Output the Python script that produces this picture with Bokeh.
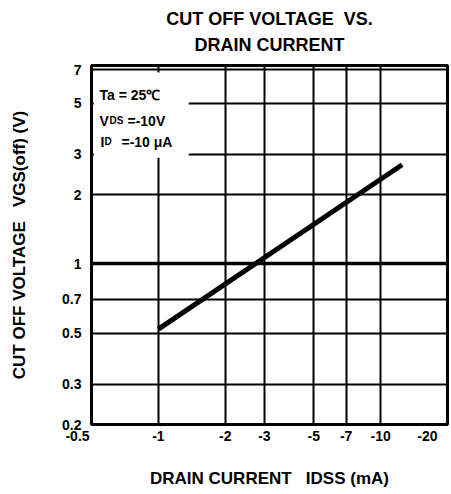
import math
from bokeh.plotting import figure
from bokeh.models import FixedTicker, Grid, Label, BoxAnnotation, Title
from bokeh.embed import file_html
from bokeh.resources import INLINE

# ---- data ----
idss_abs = [1.0, 12.5]          # |IDSS| in mA (axis shows negative values)
vgs_off = [0.52, 2.7]           # VGS(off) in V

x_ticks = [0.5, 1, 2, 3, 5, 7, 10, 20]
x_tick_labels = ["-0.5\u2003\u2003", "-1", "-2", "-3", "-5", "-7", "-10",
                 "-20\u2003"]
y_ticks = [0.2, 0.3, 0.5, 0.7, 1, 2, 3, 5, 7]
y_tick_labels = ["0.2", "0.3", "0.5", "0.7", "1", "2", "3", "5", "7"]

FONT = "Liberation Sans"
NB = "\u00a0"

p = figure(width=451, height=494, x_axis_type="log", y_axis_type="log",
           x_range=(0.5, 20), y_range=(0.2, 7.3),
           output_backend="svg", toolbar_location=None, title=None,
           min_border_left=91, min_border_right=4, min_border_top=65,
           min_border_bottom=70)
p.background_fill_color = "white"
p.border_fill_color = "white"
p.outline_line_color = "black"
p.outline_line_width = 3

for ax, ticks, labels in ((p.xaxis[0], x_ticks, x_tick_labels),
                          (p.yaxis[0], y_ticks, y_tick_labels)):
    ax.ticker = FixedTicker(ticks=ticks)
    ax.major_label_overrides = {t: l for t, l in zip(ticks, labels)}
    ax.minor_tick_line_color = None
    ax.major_tick_line_color = None
    ax.major_tick_in = 0
    ax.major_tick_out = 0
    ax.axis_line_color = None
    ax.major_label_text_font = FONT
    ax.major_label_text_font_style = "bold"
    ax.major_label_text_font_size = "14px"
    ax.major_label_text_color = "black"
    ax.axis_label_text_font = FONT
    ax.axis_label_text_font_style = "bold"
    ax.axis_label_text_font_size = "17px"
    ax.axis_label_text_color = "black"

p.xaxis.major_label_standoff = 3
p.yaxis.major_label_standoff = 10
p.xaxis.axis_label = "DRAIN CURRENT" + NB * 3 + "IDSS (mA)"
p.yaxis.axis_label = "CUT OFF VOLTAGE" + NB * 3 + "VGS(off) (V)"
p.xaxis.axis_label_standoff = 22
p.yaxis.axis_label_standoff = 30

for g in (p.xgrid[0], p.ygrid[0]):
    g.grid_line_color = "black"
    g.grid_line_width = 2
    g.grid_line_alpha = 1
p.xgrid.ticker = FixedTicker(ticks=x_ticks)
p.ygrid.ticker = FixedTicker(ticks=y_ticks)

# emphasised 1 V line
p.add_layout(Grid(dimension=1, ticker=FixedTicker(ticks=[1]),
                  grid_line_color="black", grid_line_width=3.5))

# white box behind the condition text
p.add_layout(BoxAnnotation(left=0.512, right=1.37, bottom=2.9, top=6.8,
                           fill_color="white", fill_alpha=1,
                           line_color=None))

p.line(idss_abs, vgs_off, line_color="black", line_width=5)

# two-line title (first added sits nearest the frame); a tiny blank
# title acts as a spacer between the frame and the second line
p.add_layout(Title(text=NB, text_font_size="4px", standoff=0), "above")
p.add_layout(Title(text="DRAIN CURRENT", align="center", text_font=FONT,
                   text_font_style="bold", text_font_size="18px",
                   text_color="black", standoff=8), "above")
p.add_layout(Title(text="CUT OFF VOLTAGE" + NB * 2 + "VS.", align="center",
                   text_font=FONT, text_font_style="bold",
                   text_font_size="18px", text_color="black", standoff=0),
             "above")


def lab(text, sx, sy, size, bold=True):
    p.add_layout(Label(x=sx, y=sy, x_units="screen", y_units="screen",
                       text=text, text_font=FONT,
                       text_font_style="bold" if bold else "normal",
                       text_font_size=f"{size}px", text_color="black",
                       text_align="left", text_baseline="alphabetic"))

# test conditions (positions relative to the frame's bottom-left)
lab("Ta = 25\u2103", 8, 330, 14)
lab("V", 8, 304, 14)
lab("DS", 18, 304, 10)
lab("=-10V", 36, 304, 14)
lab("I", 9, 283, 14)
lab("D", 13, 283, 10)
lab("=-10 \u03bcA", 30, 283, 14)

open("out.html", "w").write(file_html(p, INLINE))
